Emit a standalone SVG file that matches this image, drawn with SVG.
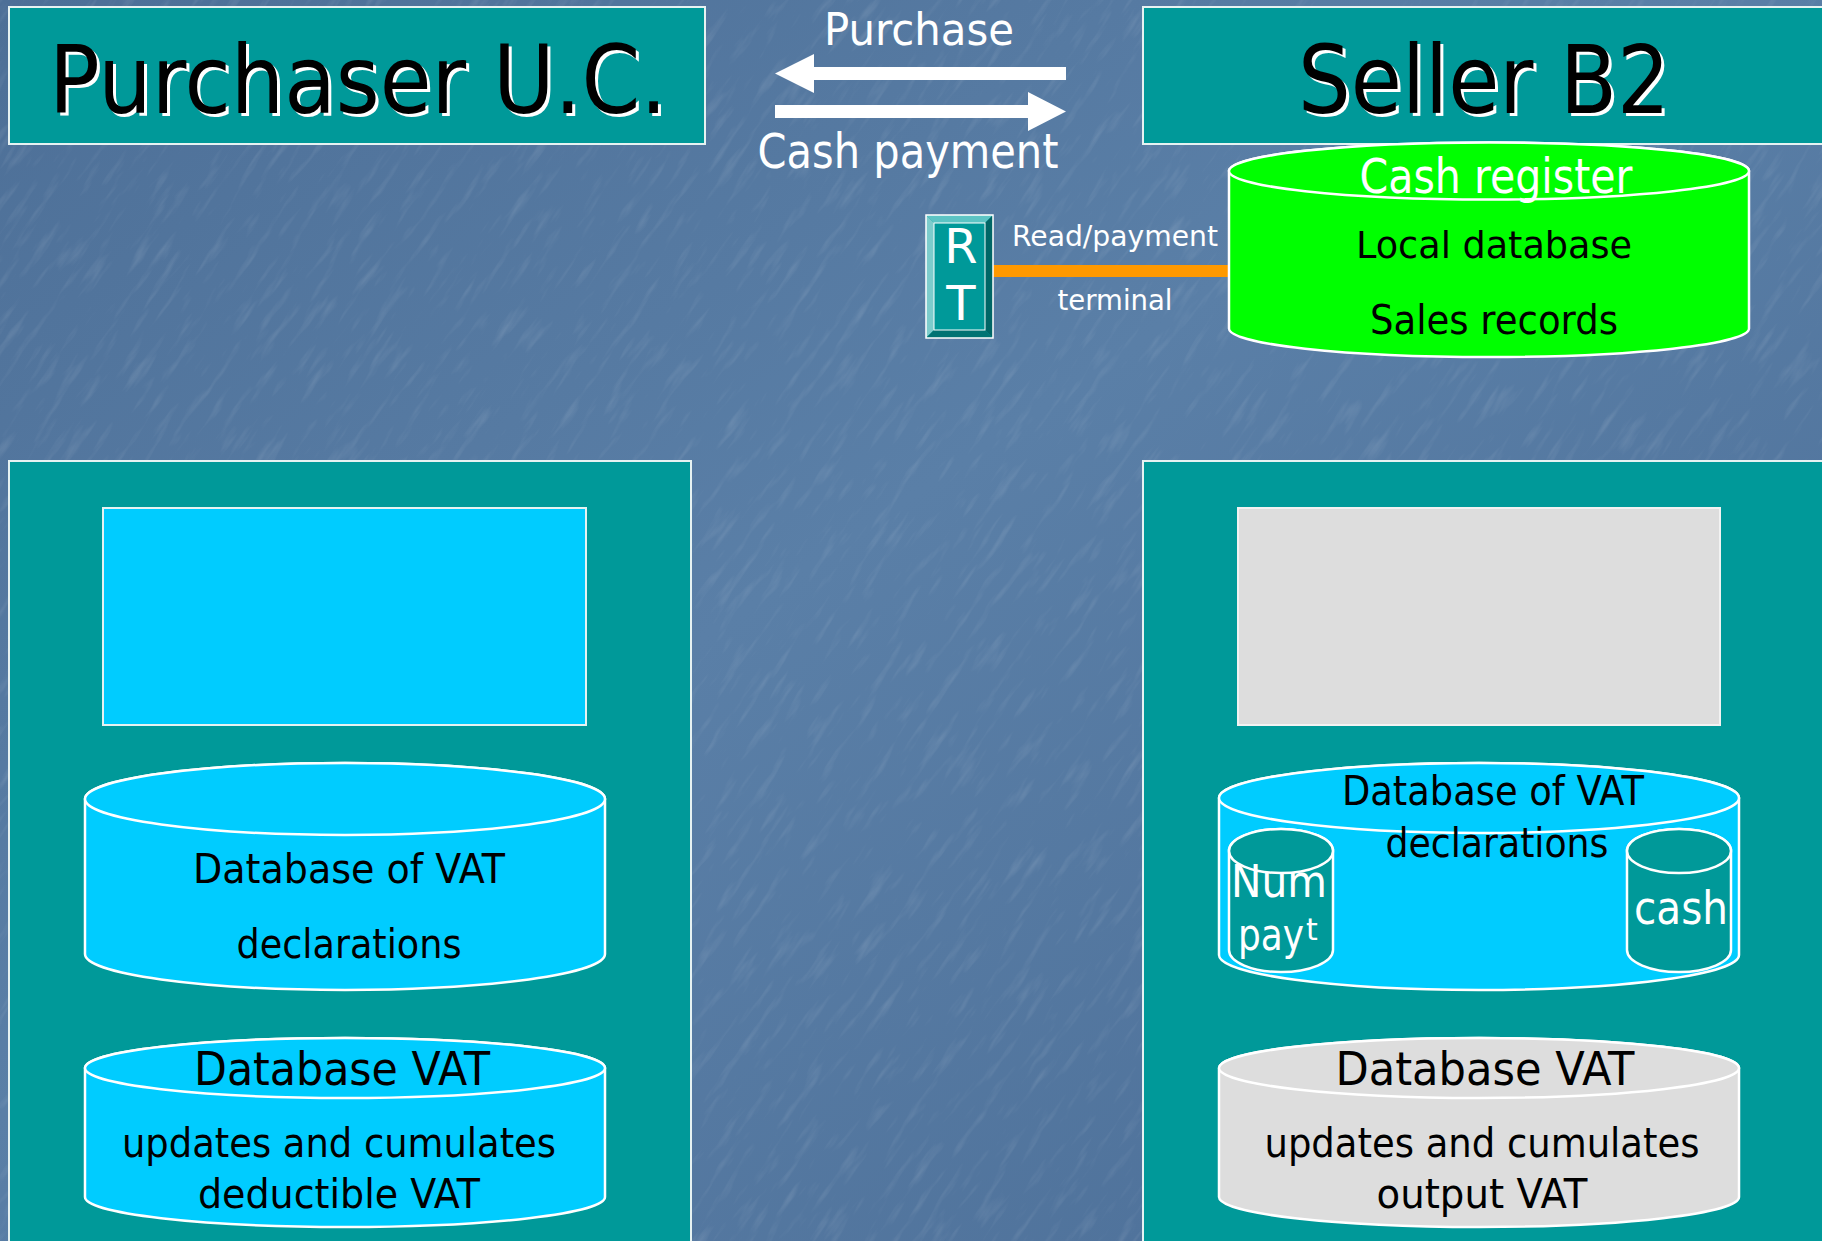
<svg xmlns="http://www.w3.org/2000/svg" width="1822" height="1241" viewBox="0 0 1822 1241">
<defs>
<linearGradient id="bg" x1="0" y1="0" x2="1" y2="1">
<stop offset="0" stop-color="#4d6f97"/>
<stop offset="0.45" stop-color="#5a7fa7"/>
<stop offset="1" stop-color="#4b6d96"/>
</linearGradient>
<filter id="tex" x="0" y="0" width="100%" height="100%">
<feTurbulence type="fractalNoise" baseFrequency="0.02 0.12" numOctaves="3" seed="7" result="n"/>
<feColorMatrix in="n" type="matrix" values="0 0 0 0 1  0 0 0 0 1  0 0 0 0 1  0 0 0 1.4 -0.78" />
</filter>
<style>
.f{font-family:"DejaVu Sans","Liberation Sans",sans-serif}
.box{fill:#009999;stroke:#e6f2f2;stroke-width:2}
.cyl{stroke:#ffffff;stroke-width:2.5}
.cyan{fill:#00ccff}
.green{fill:#00ff00}
.grey{fill:#dddddd}
.teal{fill:#009999}
.blk{fill:#000000}
.wht{fill:#ffffff}
</style>
</defs>
<rect width="1822" height="1241" fill="url(#bg)"/>
<g transform="rotate(-55 911 620)" opacity="0.2">
<rect x="-600" y="-600" width="3000" height="2500" filter="url(#tex)"/>
</g>

<g id="purchaser">
<rect class="box" x="9" y="7" width="696" height="137"/>
<text class="f wht" x="361" y="116" font-size="94" text-anchor="middle" textLength="618" lengthAdjust="spacingAndGlyphs">Purchaser U.C.</text>
<text class="f blk" x="358" y="113" font-size="94" text-anchor="middle" textLength="618" lengthAdjust="spacingAndGlyphs">Purchaser U.C.</text>
</g>

<g id="seller">
<rect class="box" x="1143" y="7" width="690" height="137"/>
<text class="f wht" x="1487" y="116" font-size="94" text-anchor="middle" textLength="372" lengthAdjust="spacingAndGlyphs">Seller B2</text>
<text class="f blk" x="1484" y="113" font-size="94" text-anchor="middle" textLength="372" lengthAdjust="spacingAndGlyphs">Seller B2</text>
</g>

<g id="connectors">
<polygon class="wht" points="775,73.5 814,54 814,67 1066,67 1066,80 814,80 814,93"/>
<polygon class="wht" points="1066,111.5 1028,92 1028,105 775,105 775,118 1028,118 1028,131"/>
<rect x="982" y="265" width="248" height="12" fill="#ff9900"/>
</g>

<g id="labels">
<text class="f wht" x="919" y="45" font-size="44" text-anchor="middle" textLength="190" lengthAdjust="spacingAndGlyphs">Purchase</text>
<text class="f wht" x="908" y="168" font-size="48" text-anchor="middle" textLength="301" lengthAdjust="spacingAndGlyphs">Cash payment</text>
<text class="f wht" x="1115" y="246" font-size="29" text-anchor="middle" textLength="206" lengthAdjust="spacingAndGlyphs">Read/payment</text>
<text class="f wht" x="1115" y="310" font-size="29" text-anchor="middle" textLength="115" lengthAdjust="spacingAndGlyphs">terminal</text>
</g>

<g id="rt">
<rect x="926" y="215" width="67" height="123" fill="#009999"/>
<polygon points="926,215 993,215 985,223 934,223" fill="#5cc4c4"/>
<polygon points="926,215 934,223 934,330 926,338" fill="#7ccccc"/>
<polygon points="993,215 993,338 985,330 985,223" fill="#006666"/>
<polygon points="926,338 934,330 985,330 993,338" fill="#007373"/>
<rect x="926" y="215" width="67" height="123" fill="none" stroke="#ffffff" stroke-width="1.5"/>
<rect x="934" y="223" width="51" height="107" fill="none" stroke="#ffffff" stroke-width="1"/>
<text class="f wht" x="961" y="263" font-size="48" text-anchor="middle">R</text>
<text class="f wht" x="961" y="320" font-size="48" text-anchor="middle">T</text>
</g>

<g id="cash-register">
<path class="cyl green" d="M1229,171 A260,28.5 0 0 1 1749,171 V328.5 A260,28.5 0 0 1 1229,328.5 Z"/>
<ellipse class="cyl green" cx="1489" cy="171" rx="260" ry="28.5"/>
<text class="f wht" x="1496" y="193" font-size="48" text-anchor="middle" textLength="273" lengthAdjust="spacingAndGlyphs">Cash register</text>
<text class="f blk" x="1494" y="258" font-size="38" text-anchor="middle" textLength="276" lengthAdjust="spacingAndGlyphs">Local database</text>
<text class="f blk" x="1494" y="334" font-size="40" text-anchor="middle" textLength="248" lengthAdjust="spacingAndGlyphs">Sales records</text>
</g>

<g id="purchaser-panel">
<rect class="box" x="9" y="461" width="682" height="800"/>
<rect x="103" y="508" width="483" height="217" fill="#00ccff" stroke="#e6f2f2" stroke-width="2"/>
</g>

<g id="purchaser-db-declarations">
<path class="cyl cyan" d="M85,799 A260,36 0 0 1 605,799 V954 A260,36 0 0 1 85,954 Z"/>
<ellipse class="cyl cyan" cx="345" cy="799" rx="260" ry="36"/>
<text class="f blk" x="349" y="883" font-size="40" text-anchor="middle" textLength="312" lengthAdjust="spacingAndGlyphs">Database of VAT</text>
<text class="f blk" x="349" y="958" font-size="40" text-anchor="middle" textLength="225" lengthAdjust="spacingAndGlyphs">declarations</text>
</g>

<g id="purchaser-db-vat">
<path class="cyl cyan" d="M85,1068 A260,30 0 0 1 605,1068 V1197 A260,30 0 0 1 85,1197 Z"/>
<ellipse class="cyl cyan" cx="345" cy="1068" rx="260" ry="30"/>
<text class="f blk" x="342" y="1085" font-size="46" text-anchor="middle" textLength="296" lengthAdjust="spacingAndGlyphs">Database VAT</text>
<text class="f blk" x="339" y="1157" font-size="40" text-anchor="middle" textLength="434" lengthAdjust="spacingAndGlyphs">updates and cumulates</text>
<text class="f blk" x="339" y="1208" font-size="40" text-anchor="middle" textLength="282" lengthAdjust="spacingAndGlyphs">deductible VAT</text>
</g>

<g id="seller-panel">
<rect class="box" x="1143" y="461" width="690" height="800"/>
<rect x="1238" y="508" width="482" height="217" fill="#dddddd" stroke="#f2f2f2" stroke-width="2"/>
</g>

<g id="seller-db-declarations">
<path class="cyl cyan" d="M1219,798 A260,35 0 0 1 1739,798 V955 A260,35 0 0 1 1219,955 Z"/>
<ellipse class="cyl cyan" cx="1479" cy="798" rx="260" ry="35"/>
<text class="f blk" x="1493" y="805" font-size="40" text-anchor="middle" textLength="302" lengthAdjust="spacingAndGlyphs">Database of VAT</text>
<text class="f blk" x="1497" y="857" font-size="40" text-anchor="middle" textLength="223" lengthAdjust="spacingAndGlyphs">declarations</text>
</g>

<g id="num-payment">
<path class="cyl teal" d="M1229,851 A52,22 0 0 1 1333,851 V950 A52,22 0 0 1 1229,950 Z"/>
<ellipse class="cyl teal" cx="1281" cy="851" rx="52" ry="22"/>
<text class="f wht" x="1279" y="897" font-size="44" text-anchor="middle" textLength="96" lengthAdjust="spacingAndGlyphs">Num</text>
<text class="f wht" x="1238" y="950" font-size="44"><tspan textLength="66" lengthAdjust="spacingAndGlyphs">pay</tspan><tspan font-size="30" dy="-10" dx="2">t</tspan></text>
</g>

<g id="cash">
<path class="cyl teal" d="M1627,851 A52,22 0 0 1 1731,851 V950 A52,22 0 0 1 1627,950 Z"/>
<ellipse class="cyl teal" cx="1679" cy="851" rx="52" ry="22"/>
<text class="f wht" x="1681" y="924" font-size="47" text-anchor="middle" textLength="94" lengthAdjust="spacingAndGlyphs">cash</text>
</g>

<g id="seller-db-vat">
<path class="cyl grey" d="M1219,1068 A260,30 0 0 1 1739,1068 V1197 A260,30 0 0 1 1219,1197 Z"/>
<ellipse class="cyl grey" cx="1479" cy="1068" rx="260" ry="30"/>
<text class="f blk" x="1485" y="1085" font-size="46" text-anchor="middle" textLength="299" lengthAdjust="spacingAndGlyphs">Database VAT</text>
<text class="f blk" x="1482" y="1157" font-size="40" text-anchor="middle" textLength="435" lengthAdjust="spacingAndGlyphs">updates and cumulates</text>
<text class="f blk" x="1482" y="1208" font-size="40" text-anchor="middle" textLength="211" lengthAdjust="spacingAndGlyphs">output VAT</text>
</g>
</svg>
